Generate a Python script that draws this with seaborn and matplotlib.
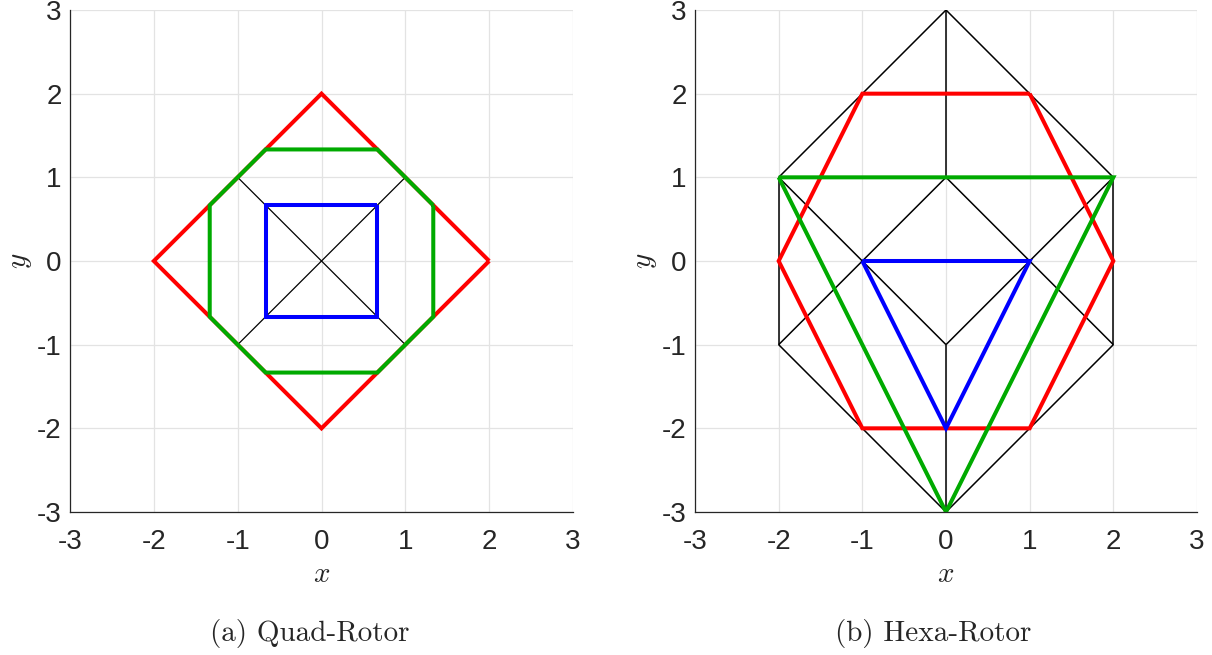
import numpy as np
import pandas as pd
import matplotlib
matplotlib.use("Agg")
import matplotlib.pyplot as plt
import seaborn as sns

sns.set_theme(style="white")
plt.rcParams["font.family"] = ["Liberation Sans", "DejaVu Sans"]
plt.rcParams["mathtext.fontset"] = "cm"
plt.rcParams["axes.unicode_minus"] = False

# ---- Quad-rotor geometry ----
quad_frame_x = [[-1, 1], [-1, 1]]
quad_frame_y = [[-1, 1], [1, -1]]
quad_red_x = [2, 0, -2, 0, 2]
quad_red_y = [0, 2, 0, -2, 0]
quad_green_x = [4/3, 2/3, -2/3, -4/3, -4/3, -2/3, 2/3, 4/3, 4/3]
quad_green_y = [2/3, 4/3, 4/3, 2/3, -2/3, -4/3, -4/3, -2/3, 2/3]
quad_blue_x = [2/3, -2/3, -2/3, 2/3, 2/3]
quad_blue_y = [2/3, 2/3, -2/3, -2/3, 2/3]

# ---- Hexa-rotor geometry ----
hexa_frame_x = [
    [-2, 0, 2], [0, 0], [0, 0],
    [-2, -2], [2, 2],
    [-2, 0, 2],
    [-2, 0], [-2, 0], [2, 0], [2, 0],
]
hexa_frame_y = [
    [1, 3, 1], [3, 1], [-1, -3],
    [1, -1], [1, -1],
    [-1, -3, -1],
    [1, -1], [-1, 1], [1, -1], [-1, 1],
]
hexa_red_x = [1, -1, -2, -1, 1, 2, 1]
hexa_red_y = [2, 2, 0, -2, -2, 0, 2]
hexa_green_x = [-2, 2, 0, -2]
hexa_green_y = [1, 1, -3, 1]
hexa_blue_x = [-1, 1, 0, -1]
hexa_blue_y = [0, 0, -2, 0]

ticks = [-3, -2, -1, 0, 1, 2, 3]
captions = ["(a) Quad-Rotor", "(b) Hexa-Rotor"]

RED = "#ff0000"
GREEN = "#00aa00"
BLUE = "#0000ff"
AXC = "#262626"

fig = plt.figure(figsize=(12.12, 6.55), dpi=100)
ax1 = fig.add_axes([70/1212, 1 - 512/655, 503/1212, 502/655])
ax2 = fig.add_axes([695/1212, 1 - 512/655, 502/1212, 502/655])


def path(ax, xs, ys, color, lw):
    df = pd.DataFrame({"x": xs, "y": ys})
    sns.lineplot(data=df, x="x", y="y", sort=False, estimator=None,
                 color=color, lw=lw, ax=ax, solid_joinstyle="miter",
                 solid_capstyle="butt")


def draw(ax, fx, fy, rx, ry, gx, gy, bx, by, black_lw):
    for xs, ys in zip(fx, fy):
        path(ax, xs, ys, "black", black_lw)
    path(ax, rx, ry, RED, 2.9)
    path(ax, gx, gy, GREEN, 2.9)
    path(ax, bx, by, BLUE, 2.9)


draw(ax1, quad_frame_x, quad_frame_y, quad_red_x, quad_red_y,
     quad_green_x, quad_green_y, quad_blue_x, quad_blue_y, 0.9)
draw(ax2, hexa_frame_x, hexa_frame_y, hexa_red_x, hexa_red_y,
     hexa_green_x, hexa_green_y, hexa_blue_x, hexa_blue_y, 1.1)

for ax in (ax1, ax2):
    ax.set_xlim(-3, 3)
    ax.set_ylim(-3, 3)
    ax.set_xticks(ticks)
    ax.set_yticks(ticks)
    ax.set_xticklabels([str(t) for t in ticks])
    ax.set_yticklabels([str(t) for t in ticks])
    ax.grid(True, color="#e3e3e3", lw=0.9)
    ax.set_axisbelow(True)
    for s in ("top", "right"):
        ax.spines[s].set_visible(False)
    for s in ("left", "bottom"):
        ax.spines[s].set_color(AXC)
        ax.spines[s].set_linewidth(0.9)
    ax.tick_params(direction="in", length=5, width=0.9, colors=AXC,
                   labelsize=20)
    ax.tick_params(axis="x", pad=12)
    ax.tick_params(axis="y", pad=6)
    ax.set_xlabel("$x$", fontsize=21, color=AXC, labelpad=4)
    ax.set_ylabel("$y$", fontsize=21, color=AXC, labelpad=2)

fig.text(310/1212, 1 - 634/655, captions[0], ha="center", va="center",
         family="cmr10", fontsize=21)
fig.text(933/1212, 1 - 634/655, captions[1], ha="center", va="center",
         family="cmr10", fontsize=21)

fig.savefig("out.png", dpi=100)
